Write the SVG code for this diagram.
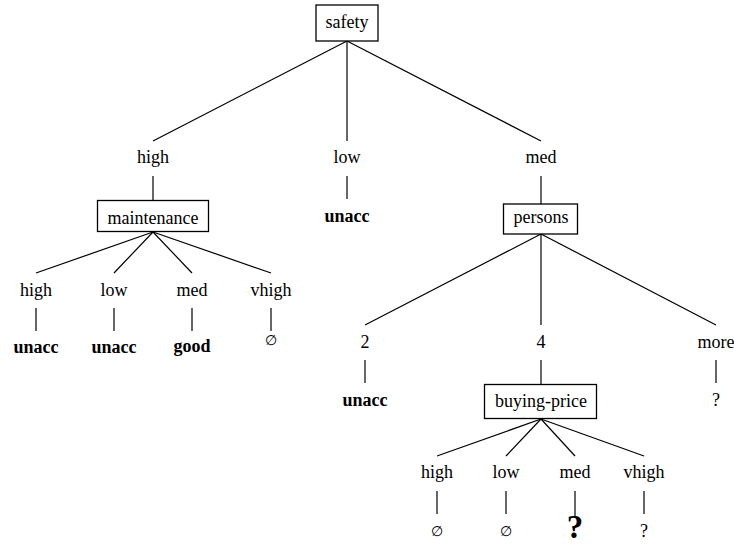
<svg xmlns="http://www.w3.org/2000/svg" width="734" height="546" viewBox="0 0 734 546">
  <style>
    text { font-family: "Liberation Serif", "Times New Roman", serif; font-size: 18px; fill: #000; text-anchor: middle; }
    .leaf { font-weight: bold; }
    .empty { font-family: "DejaVu Sans", sans-serif; font-size: 14px; }
    .big { font-weight: bold; font-size: 33px; }
    .box { fill: #fff; stroke: #000; stroke-width: 1.3; }
    #edges line { stroke: #000; stroke-width: 1.2; }
  </style>

  <!-- tree edges -->
  <g id="edges">
    <!-- safety -> values -->
    <line x1="347" y1="41" x2="153" y2="141"/>
    <line x1="347" y1="41" x2="347" y2="141"/>
    <line x1="347" y1="41" x2="541" y2="141"/>
    <!-- value -> subtree -->
    <line x1="153" y1="176" x2="153" y2="200"/>
    <line x1="347" y1="176" x2="347" y2="199"/>
    <line x1="541" y1="176" x2="541" y2="204"/>
    <!-- maintenance -> values -->
    <line x1="153" y1="232" x2="36" y2="273"/>
    <line x1="153" y1="232" x2="114" y2="273"/>
    <line x1="153" y1="232" x2="192" y2="273"/>
    <line x1="153" y1="232" x2="271" y2="273"/>
    <line x1="36" y1="308" x2="36" y2="331"/>
    <line x1="114" y1="308" x2="114" y2="331"/>
    <line x1="192" y1="308" x2="192" y2="331"/>
    <line x1="271" y1="308" x2="271" y2="331"/>
    <!-- persons -> values -->
    <line x1="541" y1="234" x2="365" y2="325"/>
    <line x1="541" y1="234" x2="541" y2="325"/>
    <line x1="541" y1="234" x2="716" y2="325"/>
    <line x1="365" y1="360" x2="365" y2="383"/>
    <line x1="541" y1="360" x2="541" y2="385"/>
    <line x1="716" y1="360" x2="716" y2="383"/>
    <!-- buying-price -> values -->
    <line x1="541" y1="419" x2="437" y2="456"/>
    <line x1="541" y1="419" x2="506" y2="456"/>
    <line x1="541" y1="419" x2="575" y2="456"/>
    <line x1="541" y1="419" x2="644" y2="456"/>
    <line x1="437" y1="491" x2="437" y2="514"/>
    <line x1="506" y1="491" x2="506" y2="514"/>
    <line x1="575" y1="491" x2="575" y2="516"/>
    <line x1="644" y1="491" x2="644" y2="514"/>
  </g>

  <!-- attribute nodes -->
  <g id="node-safety">
    <rect class="box" x="316" y="5" width="62" height="36"/>
    <text x="347" y="28">safety</text>
  </g>
  <g id="node-maintenance">
    <rect class="box" x="97.5" y="200.5" width="111" height="31"/>
    <text x="153" y="224">maintenance</text>
  </g>
  <g id="node-persons">
    <rect class="box" x="503.5" y="204" width="74" height="30"/>
    <text x="541" y="223">persons</text>
  </g>
  <g id="node-buying-price">
    <rect class="box" x="484.5" y="384.5" width="112" height="34"/>
    <text x="541" y="407">buying-price</text>
  </g>

  <!-- value labels -->
  <g id="label-safety-high"><text x="153" y="163">high</text></g>
  <g id="label-safety-low"><text x="347" y="163">low</text></g>
  <g id="label-safety-med"><text x="541" y="163">med</text></g>

  <g id="label-maint-high"><text x="36" y="296">high</text></g>
  <g id="label-maint-low"><text x="114" y="296">low</text></g>
  <g id="label-maint-med"><text x="192" y="296">med</text></g>
  <g id="label-maint-vhigh"><text x="271" y="296">vhigh</text></g>

  <g id="label-persons-2"><text x="365" y="348">2</text></g>
  <g id="label-persons-4"><text x="541" y="348">4</text></g>
  <g id="label-persons-more"><text x="716" y="348">more</text></g>

  <g id="label-buy-high"><text x="437" y="478">high</text></g>
  <g id="label-buy-low"><text x="506" y="478">low</text></g>
  <g id="label-buy-med"><text x="575" y="478">med</text></g>
  <g id="label-buy-vhigh"><text x="644" y="478">vhigh</text></g>

  <!-- leaves -->
  <g id="leaf-safety-low"><text class="leaf" x="347" y="222">unacc</text></g>
  <g id="leaf-maint-high"><text class="leaf" x="36" y="353">unacc</text></g>
  <g id="leaf-maint-low"><text class="leaf" x="114" y="353">unacc</text></g>
  <g id="leaf-maint-med"><text class="leaf" x="192" y="352">good</text></g>
  <g id="leaf-maint-vhigh"><text class="empty" x="271" y="345">∅</text></g>
  <g id="leaf-persons-2"><text class="leaf" x="365" y="406">unacc</text></g>
  <g id="leaf-persons-more"><text x="716" y="406">?</text></g>
  <g id="leaf-buy-high"><text class="empty" x="437" y="536">∅</text></g>
  <g id="leaf-buy-low"><text class="empty" x="506" y="536">∅</text></g>
  <g id="leaf-buy-med"><text class="big" x="575" y="538">?</text></g>
  <g id="leaf-buy-vhigh"><text x="644" y="537">?</text></g>
</svg>
